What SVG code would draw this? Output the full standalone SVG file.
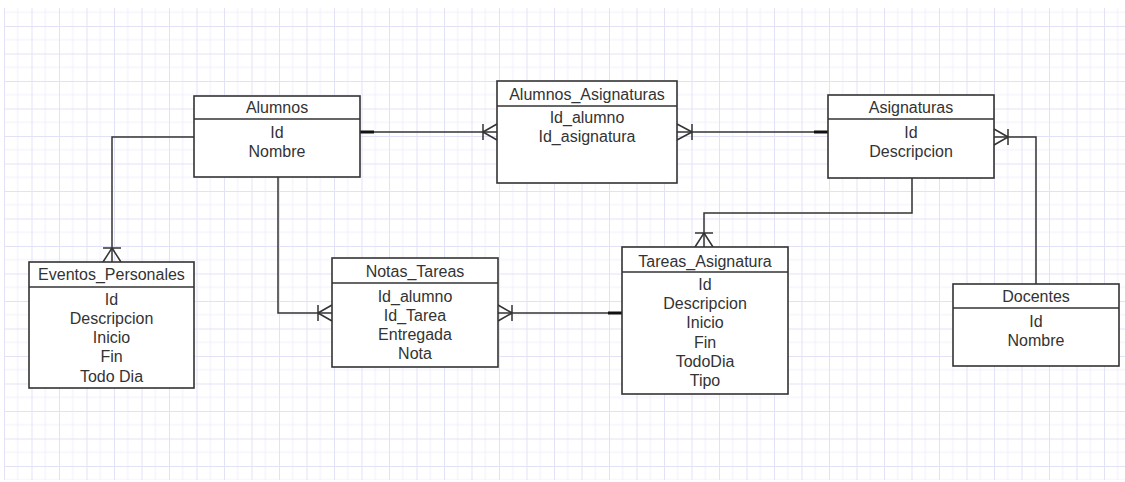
<svg xmlns="http://www.w3.org/2000/svg" width="1125" height="482" viewBox="0 0 1125 482">
<defs>
<pattern id="grid" patternUnits="userSpaceOnUse" x="4" y="-1.5" width="27.5" height="27.5">
<path d="M13.75 0V27.5M0 13.75H27.5" stroke="#f0f0fb" stroke-width="1" fill="none"/>
<path d="M0.5 0V27.5M0 0.5H27.5" stroke="#e2e2f6" stroke-width="1" fill="none"/>
</pattern>
<style>
.box{fill:#fff;stroke:#333;stroke-width:1.6}
.div{stroke:#333;stroke-width:1.6}
.t{font-family:"Liberation Sans",Arial,sans-serif;font-size:16px;fill:#333;text-anchor:middle}
.ln{fill:none;stroke:#333;stroke-width:1.5}
.one{fill:none;stroke:#111;stroke-width:3}
</style>
</defs>
<rect x="0" y="0" width="1125" height="482" fill="#fff"/>
<rect x="4" y="8" width="1121" height="472" fill="url(#grid)"/>

<g id="connectors">
<!-- Alumnos - Eventos_Personales -->
<path class="ln" d="M194 137H112V262"/>
<path class="ln" d="M103 248H121M112 248L103 262M112 248L121 262"/>
<!-- Alumnos - Alumnos_Asignaturas -->
<path class="ln" d="M360 132H497"/>
<path class="one" d="M360 132H374"/>
<path class="ln" d="M483 124V140M483 132L497 124M483 132L497 140"/>
<!-- Alumnos_Asignaturas - Asignaturas -->
<path class="ln" d="M677 132H828"/>
<path class="one" d="M814 132H828"/>
<path class="ln" d="M692 124V140M692 132L677 124M692 132L677 140"/>
<!-- Asignaturas - Docentes -->
<path class="ln" d="M994 137H1036V284"/>
<path class="ln" d="M1008 129V145M1008 137L994 129M1008 137L994 145"/>
<!-- Asignaturas - Tareas_Asignatura -->
<path class="ln" d="M912 178V213H704V247"/>
<path class="ln" d="M695 233H713M704 233L695 247M704 233L713 247"/>
<!-- Alumnos - Notas_Tareas -->
<path class="ln" d="M278 177V313H332"/>
<path class="ln" d="M318 305V321M318 313L332 305M318 313L332 321"/>
<!-- Notas_Tareas - Tareas_Asignatura -->
<path class="ln" d="M498 313H622"/>
<path class="one" d="M608 313H622"/>
<path class="ln" d="M512 305V321M512 313L498 305M512 313L498 321"/>
</g>

<g id="alumnos">
<rect class="box" x="194" y="96" width="166" height="81"/>
<line class="div" x1="194" y1="119" x2="360" y2="119"/>
<text class="t" x="277" y="113">Alumnos</text>
<text class="t" x="277" y="138">Id</text>
<text class="t" x="277" y="157">Nombre</text>
</g>

<g id="alumnos_asignaturas">
<rect class="box" x="497" y="81" width="180" height="102"/>
<line class="div" x1="497" y1="106" x2="677" y2="106"/>
<text class="t" x="587" y="100">Alumnos_Asignaturas</text>
<text class="t" x="587" y="123">Id_alumno</text>
<text class="t" x="587" y="142">Id_asignatura</text>
</g>

<g id="asignaturas">
<rect class="box" x="828" y="95" width="166" height="83"/>
<line class="div" x1="828" y1="119" x2="994" y2="119"/>
<text class="t" x="911" y="113">Asignaturas</text>
<text class="t" x="911" y="138">Id</text>
<text class="t" x="911" y="157">Descripcion</text>
</g>

<g id="eventos_personales">
<rect class="box" x="29" y="262" width="165" height="126"/>
<line class="div" x1="29" y1="287" x2="194" y2="287"/>
<text class="t" x="111.5" y="280">Eventos_Personales</text>
<text class="t" x="111.5" y="305">Id</text>
<text class="t" x="111.5" y="324">Descripcion</text>
<text class="t" x="111.5" y="343">Inicio</text>
<text class="t" x="111.5" y="362">Fin</text>
<text class="t" x="111.5" y="382">Todo Dia</text>
</g>

<g id="notas_tareas">
<rect class="box" x="332" y="258" width="166" height="109"/>
<line class="div" x1="332" y1="283" x2="498" y2="283"/>
<text class="t" x="415" y="277">Notas_Tareas</text>
<text class="t" x="415" y="302">Id_alumno</text>
<text class="t" x="415" y="321">Id_Tarea</text>
<text class="t" x="415" y="340">Entregada</text>
<text class="t" x="415" y="359">Nota</text>
</g>

<g id="tareas_asignatura">
<rect class="box" x="622" y="247" width="166" height="147"/>
<line class="div" x1="622" y1="272" x2="788" y2="272"/>
<text class="t" x="705" y="267">Tareas_Asignatura</text>
<text class="t" x="705" y="290">Id</text>
<text class="t" x="705" y="309">Descripcion</text>
<text class="t" x="705" y="328">Inicio</text>
<text class="t" x="705" y="348">Fin</text>
<text class="t" x="705" y="367">TodoDia</text>
<text class="t" x="705" y="386">Tipo</text>
</g>

<g id="docentes">
<rect class="box" x="953" y="284" width="166" height="82"/>
<line class="div" x1="953" y1="308" x2="1119" y2="308"/>
<text class="t" x="1036" y="302">Docentes</text>
<text class="t" x="1036" y="327">Id</text>
<text class="t" x="1036" y="346">Nombre</text>
</g>
</svg>
